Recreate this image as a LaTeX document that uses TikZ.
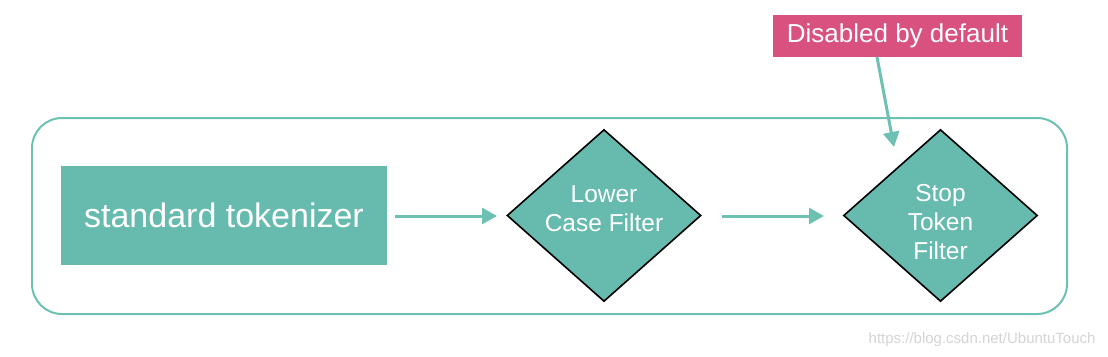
\documentclass[tikz,border=0pt]{standalone}
\usepackage{fontspec}
\setmainfont{Liberation Sans}
\usetikzlibrary{shapes.geometric,arrows.meta}
\definecolor{tealfill}{HTML}{66BBAE}
\definecolor{tealline}{HTML}{6CC1B2}
\definecolor{pinkbox}{HTML}{D9527F}
\definecolor{wmgray}{HTML}{D4D4D4}
\tikzset{
  frame/.style={draw=tealline, line width=2pt, rounded corners=30pt, minimum width=1035pt, minimum height=196pt, inner sep=0pt},
  tokbox/.style={fill=tealfill, minimum width=326pt, minimum height=99pt, inner sep=0pt, text=white, font=\fontsize{34}{40}\selectfont},
  filt/.style={diamond, fill=tealfill, draw=black, line width=1.6pt, aspect=1.128, minimum width=194pt, minimum height=172pt, inner sep=0pt},
  filttext/.style={text=white, align=center, inner sep=0pt, font=\fontsize{24.5}{29}\selectfont},
  note/.style={fill=pinkbox, minimum width=249pt, minimum height=42pt, inner sep=0pt, text=white, font=\fontsize{26}{30}\selectfont},
  flow/.style={draw=tealline, line width=3pt, -{Triangle[length=15pt,width=16pt]}},
}
\begin{document}
\begin{tikzpicture}[x=1pt,y=-1pt]
\useasboundingbox (0,0) rectangle (1108,356);
\node[frame] (frm) at (549.5,216) {};
\node[tokbox] (tok) at (224,215.5) {standard tokenizer};
\node[filt] (low) at (604,215.5) {};
\node[filttext] (lowt) at (604,209) {Lower\\Case Filter};
\node[filt] (stop) at (940.5,215.5) {};
\node[filttext] (stopt) at (940.5,222) {Stop\\Token\\Filter};
\node[note] (dis) at (897.5,36) {Disabled by default};
\coordinate (a1s) at (395,216);
\coordinate (a1e) at (497,216);
\coordinate (a2s) at (722,216);
\coordinate (a2e) at (824,216);
\coordinate (a3s) at (877,57);
\coordinate (a3e) at (894,147);
\draw[flow] (a1s) -- (a1e);
\draw[flow] (a2s) -- (a2e);
\draw[flow] (a3s) -- (a3e);
\node[text=wmgray, font=\fontsize{15}{18}\selectfont, anchor=east] (wm) at (1099,340) {https://blog.csdn.net/UbuntuTouch};
\end{tikzpicture}
\end{document}
